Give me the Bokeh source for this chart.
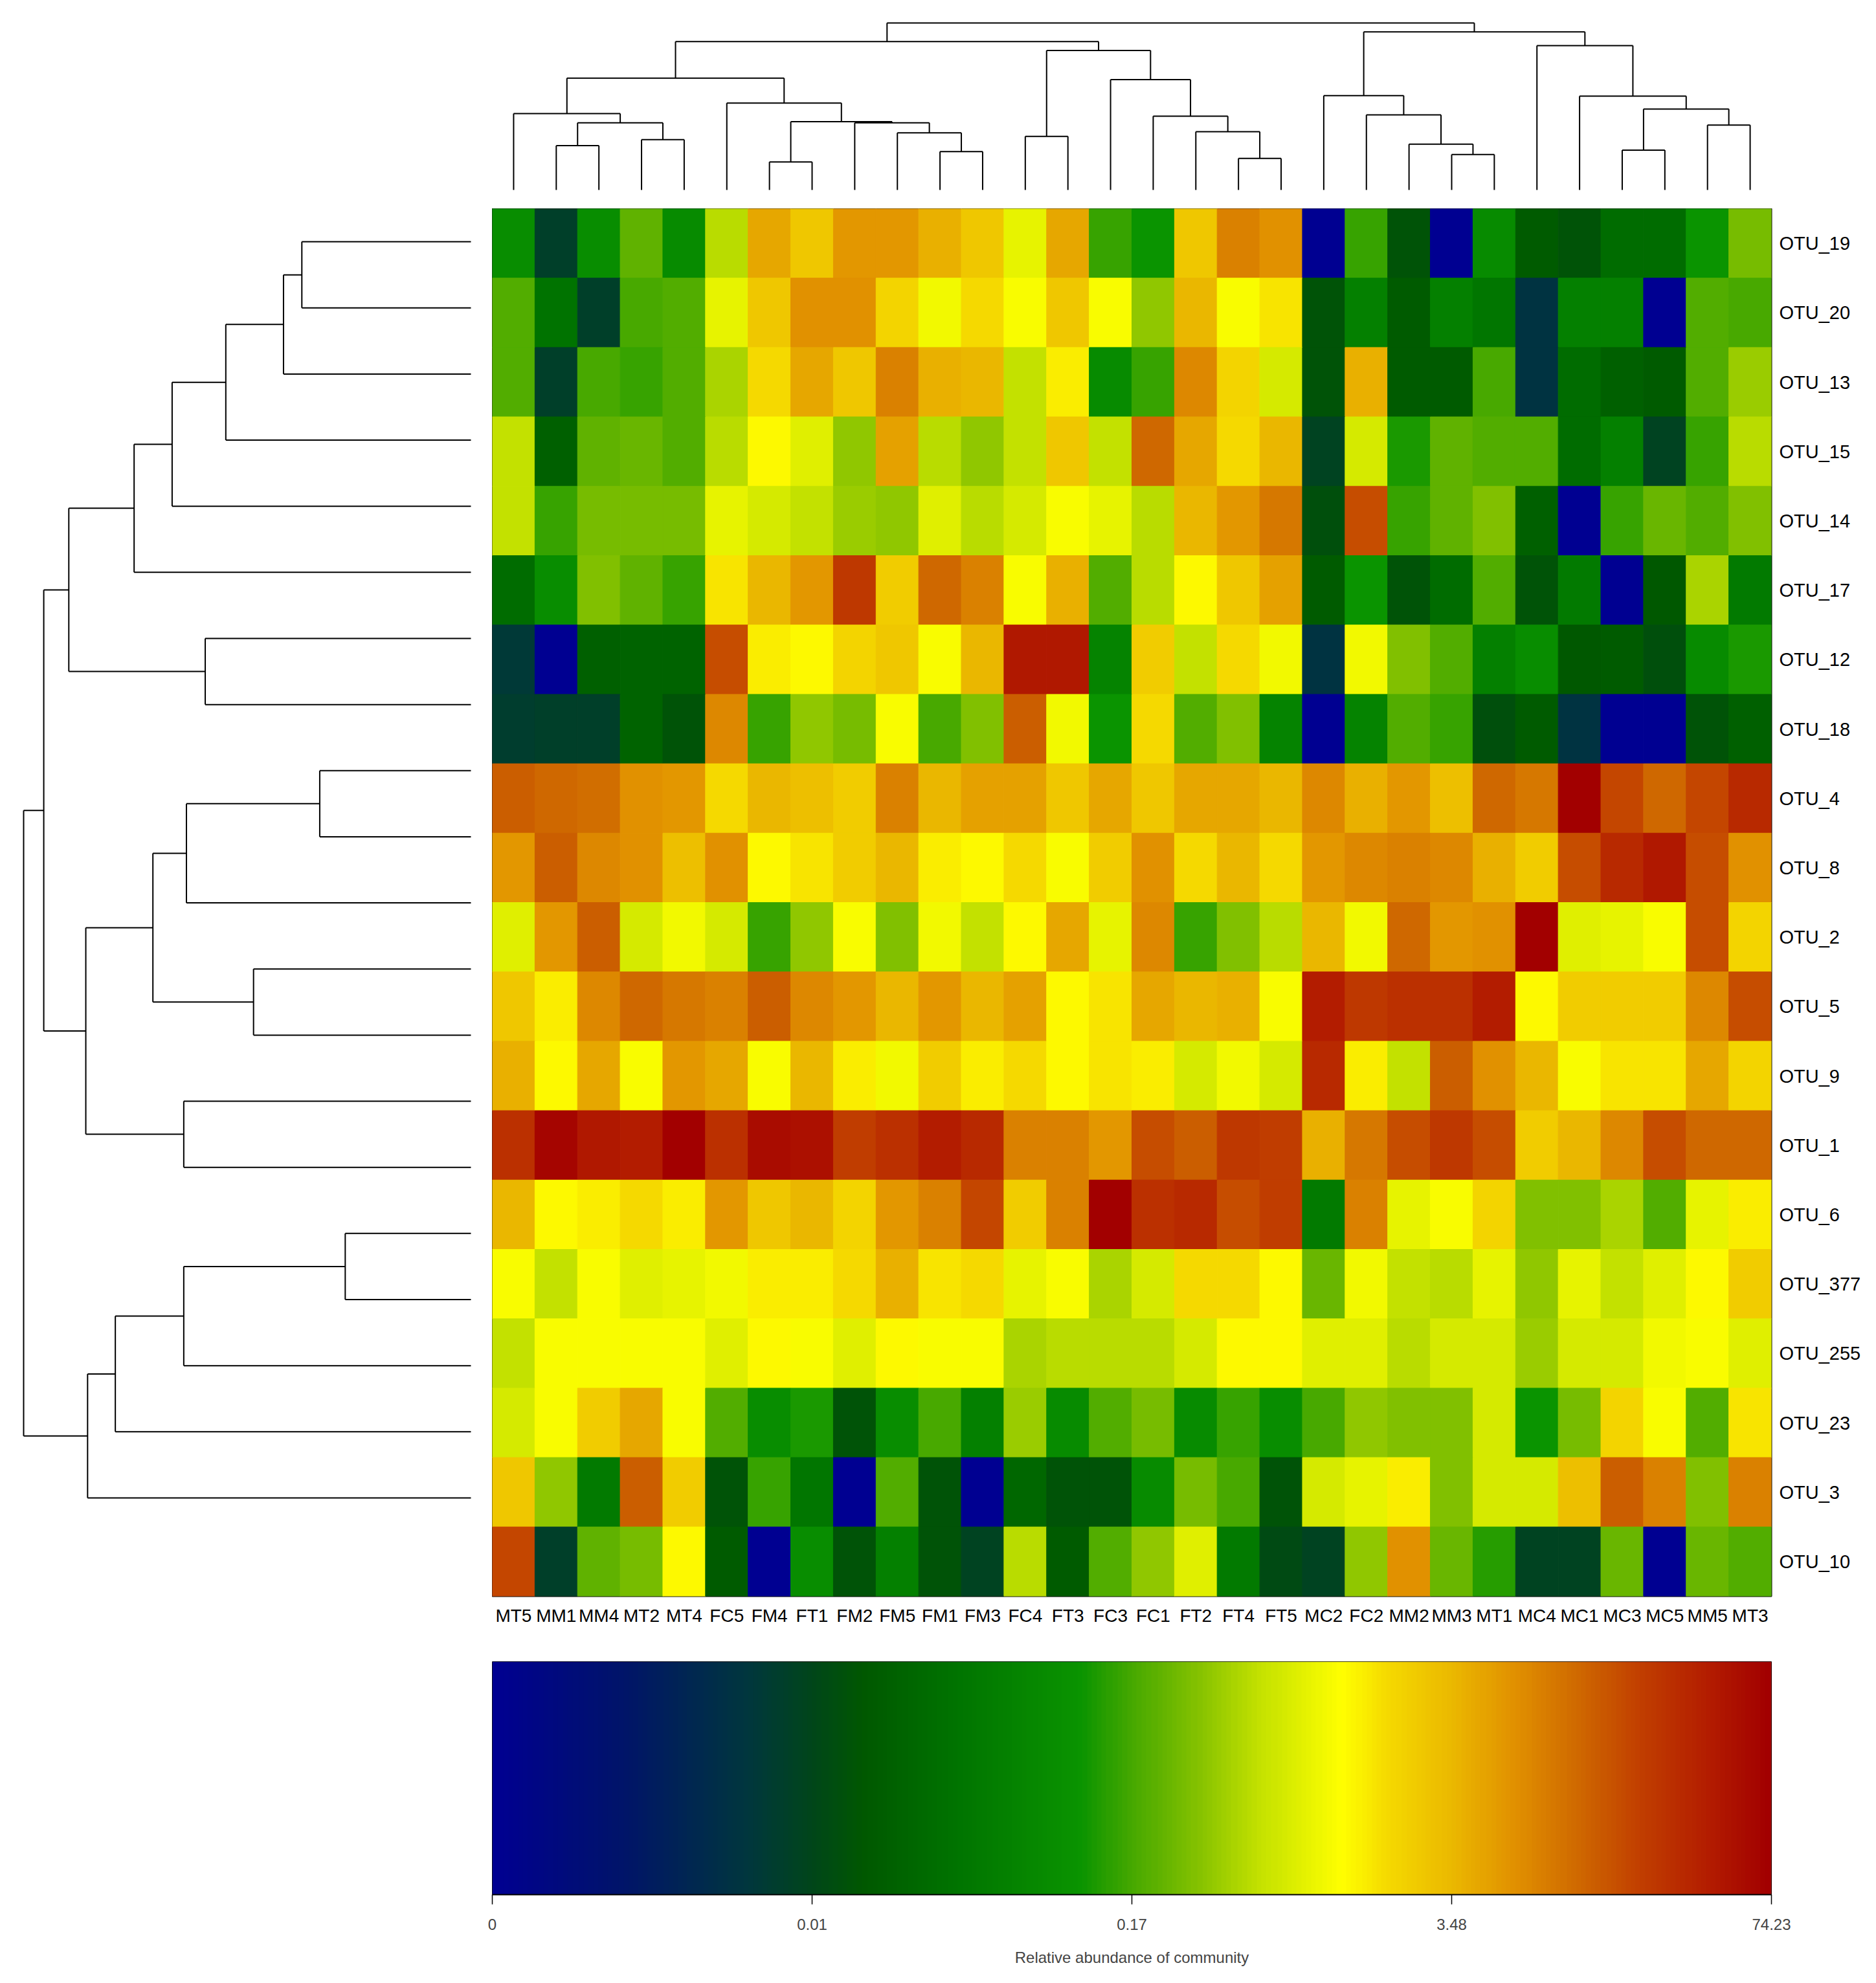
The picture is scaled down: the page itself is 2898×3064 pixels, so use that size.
import numpy as np
from bokeh.plotting import figure
from bokeh.layouts import column, row
from bokeh.models import Range1d, FixedTicker, LinearColorMapper, Spacer, ColumnDataSource
from bokeh.embed import file_html
from bokeh.resources import INLINE

# ---------------- data ----------------
samples = ["MT5", "MM1", "MM4", "MT2", "MT4", "FC5", "FM4", "FT1", "FM2", "FM5",
           "FM1", "FM3", "FC4", "FT3", "FC3", "FC1", "FT2", "FT4", "FT5", "MC2",
           "FC2", "MM2", "MM3", "MT1", "MC4", "MC1", "MC3", "MC5", "MM5", "MT3"]

otus = ["OTU_19", "OTU_20", "OTU_13", "OTU_15", "OTU_14", "OTU_17", "OTU_12", "OTU_18",
        "OTU_4", "OTU_8", "OTU_2", "OTU_5", "OTU_9", "OTU_1", "OTU_6", "OTU_377",
        "OTU_255", "OTU_23", "OTU_3", "OTU_10"]

# position of each cell on the colour key (0 = "0", 100 = "74.23"), per OTU, in sample order
OTU_19 = [44, 23, 44, 52, 43, 59, 77, 73, 79, 79, 76, 73, 64, 77, 49, 46, 73, 82, 80, 0, 49, 28, 0, 43, 30, 28, 34, 34, 46, 54]
OTU_20 = [51, 36, 23, 50, 51, 64, 73, 80, 80, 71, 65, 70, 66, 73, 66, 56, 75, 66, 69, 28, 40, 30, 40, 37, 19, 40, 40, 0, 51, 50]
OTU_13 = [51, 23, 50, 49, 51, 58, 70, 77, 73, 82, 76, 75, 60, 68, 43, 49, 81, 71, 62, 28, 76, 30, 30, 50, 19, 34, 31, 30, 51, 57]
OTU_15 = [60, 31, 52, 53, 51, 59, 67, 63, 56, 78, 59, 56, 60, 73, 60, 85, 77, 70, 75, 24, 62, 47, 52, 51, 51, 34, 40, 24, 49, 59]
OTU_14 = [60, 49, 54, 54, 54, 64, 62, 60, 57, 56, 63, 59, 62, 66, 64, 59, 75, 79, 83, 27, 88, 49, 52, 55, 31, 0, 49, 53, 51, 55]
OTU_17 = [34, 44, 55, 52, 49, 69, 75, 79, 91, 72, 85, 82, 66, 76, 51, 59, 67, 73, 78, 30, 46, 28, 34, 51, 28, 38, 0, 29, 58, 38]
OTU_12 = [21, 0, 31, 32, 32, 88, 68, 67, 71, 73, 66, 75, 96, 96, 41, 72, 60, 70, 65, 19, 65, 55, 51, 40, 44, 29, 30, 27, 43, 47]
OTU_18 = [22, 23, 23, 32, 28, 81, 49, 56, 54, 66, 50, 55, 86, 65, 46, 70, 51, 55, 41, 0, 41, 51, 49, 27, 30, 19, 0, 0, 28, 31]
OTU_4 = [86, 85, 84, 80, 79, 70, 75, 74, 72, 82, 75, 78, 78, 73, 77, 73, 77, 77, 75, 81, 76, 79, 74, 85, 83, 100, 89, 85, 89, 93]
OTU_8 = [79, 86, 81, 80, 74, 80, 67, 69, 72, 75, 68, 67, 70, 66, 72, 80, 70, 75, 70, 79, 81, 82, 81, 76, 72, 88, 93, 96, 88, 80]
OTU_2 = [63, 79, 86, 62, 65, 62, 49, 56, 66, 55, 65, 60, 67, 77, 64, 81, 49, 55, 59, 75, 65, 85, 79, 80, 100, 63, 64, 66, 88, 71]
OTU_5 = [73, 68, 81, 85, 83, 82, 86, 81, 79, 75, 79, 75, 78, 67, 69, 77, 75, 76, 66, 95, 91, 92, 92, 95, 67, 72, 72, 72, 81, 88]
OTU_9 = [76, 67, 77, 66, 79, 77, 66, 75, 68, 65, 72, 68, 70, 67, 69, 68, 62, 65, 62, 93, 68, 60, 86, 80, 75, 66, 69, 69, 77, 71]
OTU_1 = [92, 99, 96, 95, 100, 92, 98, 97, 90, 92, 95, 93, 82, 82, 79, 88, 86, 91, 90, 76, 83, 88, 91, 88, 72, 75, 81, 88, 85, 85]
OTU_6 = [75, 67, 68, 70, 68, 79, 73, 75, 71, 79, 82, 89, 72, 82, 100, 92, 93, 88, 90, 38, 82, 64, 66, 71, 55, 55, 58, 51, 64, 68]
OTU_377 = [66, 60, 66, 63, 64, 65, 68, 68, 70, 76, 69, 70, 64, 66, 58, 62, 70, 70, 67, 53, 65, 60, 59, 64, 56, 64, 60, 63, 67, 72]
OTU_255 = [60, 66, 66, 66, 66, 63, 67, 66, 63, 67, 66, 66, 58, 59, 59, 59, 62, 67, 67, 63, 63, 59, 62, 62, 57, 62, 62, 65, 66, 63]
OTU_23 = [62, 66, 72, 77, 66, 51, 44, 47, 28, 44, 50, 40, 57, 43, 51, 54, 43, 49, 44, 50, 56, 55, 55, 62, 46, 54, 71, 66, 51, 69]
OTU_3 = [73, 56, 38, 86, 72, 28, 49, 37, 0, 51, 28, 0, 33, 28, 28, 43, 54, 50, 28, 62, 64, 68, 55, 62, 62, 74, 86, 82, 55, 82]
OTU_10 = [89, 23, 52, 54, 67, 30, 0, 44, 28, 40, 28, 24, 59, 30, 51, 56, 63, 38, 26, 24, 56, 80, 53, 48, 24, 24, 53, 0, 53, 51]

abundance_level = [OTU_19, OTU_20, OTU_13, OTU_15, OTU_14, OTU_17, OTU_12, OTU_18,
                   OTU_4, OTU_8, OTU_2, OTU_5, OTU_9, OTU_1, OTU_6, OTU_377,
                   OTU_255, OTU_23, OTU_3, OTU_10]

# column (sample) clustering: (left child, right child, merge height); node k is "n<k>"
col_merges = [
    ("MM1", "MM4", 0.266), ("MT2", "MT4", 0.301), ("n0", "n1", 0.402), ("MT5", "n2", 0.457),
    ("FM4", "FT1", 0.168), ("FM1", "FM3", 0.230), ("FM5", "n5", 0.342), ("FM2", "n6", 0.402),
    ("n4", "n7", 0.409), ("FC5", "n8", 0.520), ("n3", "n9", 0.670), ("FC4", "FT3", 0.321),
    ("FT4", "FT5", 0.189), ("FT2", "n12", 0.349), ("FC1", "n13", 0.442), ("FC3", "n14", 0.661),
    ("n11", "n15", 0.835), ("n10", "n16", 0.889), ("MM3", "MT1", 0.212), ("MM2", "n18", 0.274),
    ("FC2", "n19", 0.450), ("MC2", "n20", 0.565), ("MC3", "MC5", 0.238), ("MM5", "MT3", 0.389),
    ("n22", "n23", 0.485), ("MC1", "n24", 0.562), ("MC4", "n25", 0.864), ("n21", "n26", 0.947),
    ("n17", "n27", 1.000),
]

# row (OTU) clustering
row_merges = [
    ("OTU_19", "OTU_20", 0.378), ("n0", "OTU_13", 0.419), ("n1", "OTU_15", 0.548),
    ("n2", "OTU_14", 0.668), ("n3", "OTU_17", 0.753), ("OTU_12", "OTU_18", 0.594),
    ("n4", "n5", 0.899), ("OTU_4", "OTU_8", 0.338), ("n7", "OTU_2", 0.636),
    ("OTU_5", "OTU_9", 0.486), ("n8", "n9", 0.711), ("OTU_1", "OTU_6", 0.642),
    ("n10", "n11", 0.861), ("n6", "n12", 0.955), ("OTU_377", "OTU_255", 0.281),
    ("n14", "OTU_23", 0.642), ("n15", "OTU_3", 0.795), ("n16", "OTU_10", 0.857),
    ("n13", "n17", 1.000),
]

colorbar_ticks = [0, 25, 50, 75, 100]
colorbar_labels = ["0", "0.01", "0.17", "3.48", "74.23"]
colorbar_title = "Relative abundance of community"

# ---------------- colour map ----------------
stops_t = [0.00, 0.10, 0.20, 0.25, 0.29, 0.36, 0.46, 0.50, 0.55, 0.60, 0.665,
           0.70, 0.75, 0.80, 0.85, 0.90, 0.95, 1.00]
stops_rgb = [(0, 0, 145), (0, 20, 105), (0, 55, 60), (0, 70, 25), (0, 88, 0), (0, 115, 0),
             (10, 148, 0), (70, 168, 0), (130, 192, 0), (195, 225, 0), (255, 255, 0),
             (245, 218, 0), (235, 185, 0), (225, 145, 0), (207, 105, 0), (193, 62, 0),
             (180, 30, 0), (162, 0, 0)]
tt = np.linspace(0, 1, 256)
chan = [np.interp(tt, stops_t, [c[k] for c in stops_rgb]) for k in range(3)]
palette = ["#%02x%02x%02x" % (int(round(r)), int(round(g)), int(round(b)))
           for r, g, b in zip(*chan)]
mapper = LinearColorMapper(palette=palette, low=0, high=100)

FONT = "Liberation Sans"


def dendro_segments(leaves, merges):
    pos = {name: float(i) for i, name in enumerate(leaves)}
    hgt = {name: 0.0 for name in leaves}
    segs = []
    for k, (a, b, h) in enumerate(merges):
        segs.append((pos[a], hgt[a], pos[a], h))
        segs.append((pos[b], hgt[b], pos[b], h))
        segs.append((pos[a], h, pos[b], h))
        pos["n%d" % k] = (pos[a] + pos[b]) / 2.0
        hgt["n%d" % k] = h
    return segs


# ---------------- geometry ----------------
HM_W, HM_H = 1976, 2144
LEFT_W, TOP_H = 760, 322
HM_RB, HM_BB = 154, 101
CB_H, CB_BB = 360, 122

hm_x = Range1d(-0.5, 29.5)
hm_y = Range1d(19.5, -0.5)

# ---------------- heatmap ----------------
xs, ys, lv = [], [], []
for j, vals in enumerate(abundance_level):
    for i, v in enumerate(vals):
        xs.append(i)
        ys.append(j)
        lv.append(v)
src = ColumnDataSource(dict(x=xs, y=ys, level=lv))

hm = figure(width=HM_W + HM_RB, height=HM_H + HM_BB, x_range=hm_x, y_range=hm_y,
            x_axis_location="below", y_axis_location="right",
            min_border_left=0, min_border_top=0, min_border_right=HM_RB, min_border_bottom=HM_BB,
            output_backend="svg", toolbar_location=None)
hm.rect(x="x", y="y", width=1, height=1, source=src,
        fill_color={"field": "level", "transform": mapper},
        line_color={"field": "level", "transform": mapper}, line_width=1)
hm.xaxis.ticker = FixedTicker(ticks=list(range(len(samples))))
hm.xaxis.major_label_overrides = {i: s for i, s in enumerate(samples)}
hm.yaxis.ticker = FixedTicker(ticks=list(range(len(otus))))
hm.yaxis.major_label_overrides = {j: o for j, o in enumerate(otus)}
for ax in hm.axis:
    ax.axis_line_color = None
    ax.major_tick_line_color = None
    ax.minor_tick_line_color = None
    ax.major_tick_in = 0
    ax.major_tick_out = 0
    ax.major_label_text_font = FONT
    ax.major_label_text_color = "black"
hm.xaxis.major_label_text_font_size = "28px"
hm.xaxis.major_label_standoff = 14
hm.yaxis.major_label_text_font_size = "29px"
hm.yaxis.major_label_standoff = 12
hm.grid.visible = False
hm.outline_line_color = "black"
hm.outline_line_width = 2

# ---------------- top dendrogram ----------------
top = figure(width=HM_W, height=TOP_H, x_range=hm_x, y_range=Range1d(-0.1124, 1.1357),
             x_axis_type=None, y_axis_type=None, min_border=0,
             output_backend="svg", toolbar_location=None)
cs = dendro_segments(samples, col_merges)
top.segment(x0=[s[0] for s in cs], y0=[s[1] for s in cs],
            x1=[s[2] for s in cs], y1=[s[3] for s in cs],
            line_color="black", line_width=2)
top.grid.visible = False
top.outline_line_color = None

# ---------------- left dendrogram ----------------
left = figure(width=LEFT_W, height=HM_H, x_range=Range1d(1.0521, -0.0478), y_range=hm_y,
              x_axis_type=None, y_axis_type=None, min_border=0,
              output_backend="svg", toolbar_location=None)
rs = dendro_segments(otus, row_merges)
left.segment(x0=[s[1] for s in rs], y0=[s[0] for s in rs],
             x1=[s[3] for s in rs], y1=[s[2] for s in rs],
             line_color="black", line_width=2)
left.grid.visible = False
left.outline_line_color = None

# ---------------- colour key ----------------
cb = figure(width=20 + HM_W + 60, height=CB_H + CB_BB, x_range=Range1d(0, 100), y_range=Range1d(0, 1),
            y_axis_type=None, min_border_left=20, min_border_right=60, min_border_top=0,
            min_border_bottom=CB_BB, output_backend="svg", toolbar_location=None)
cb.image(image=[np.array([np.linspace(0, 100, 800)])], x=0, y=0, dw=100, dh=1, color_mapper=mapper)
cb.xaxis.ticker = FixedTicker(ticks=colorbar_ticks)
cb.xaxis.major_label_overrides = {t: l for t, l in zip(colorbar_ticks, colorbar_labels)}
cb.xaxis.axis_label = colorbar_title
cb.xaxis.axis_label_text_font = FONT
cb.xaxis.axis_label_text_font_size = "24px"
cb.xaxis.axis_label_text_font_style = "normal"
cb.xaxis.axis_label_standoff = 26
cb.xaxis.major_label_text_font = FONT
cb.xaxis.major_label_text_font_size = "24px"
cb.xaxis.major_label_standoff = 22
cb.xaxis.major_tick_in = 0
cb.xaxis.major_tick_out = 15
cb.xaxis.major_tick_line_width = 1.5
cb.xaxis.minor_tick_line_color = None
cb.xaxis.axis_line_width = 2
cb.grid.visible = False
cb.outline_line_color = "black"
cb.outline_line_width = 1

layout = column(
    row(Spacer(width=LEFT_W, height=TOP_H), top, spacing=0),
    row(left, hm, spacing=0),
    row(Spacer(width=LEFT_W - 20, height=CB_H + CB_BB), cb, spacing=0),
    spacing=0,
)

open("out.html", "w").write(file_html(layout, INLINE, "heatmap"))
